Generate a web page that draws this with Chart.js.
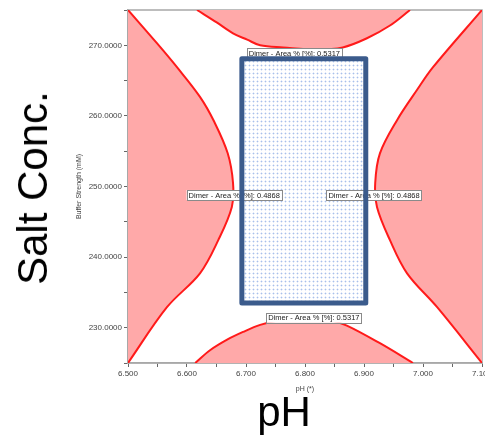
<!DOCTYPE html>
<html>
<head>
<meta charset="utf-8">
<script src="https://cdn.jsdelivr.net/npm/chart.js@4.4.1/dist/chart.umd.min.js"></script>
<style>
	body { margin: 0; background: #fff; }
	#wrap { position: relative; width: 485px; height: 437px; overflow: hidden; }
	.big { position: absolute; font-family: "Liberation Sans", Arial, sans-serif; font-size: 42px; line-height: 1; white-space: nowrap; color: #000; }
	#saltLabel { left: 33px; top: 188px; transform: translate(-50%, -50%) rotate(-90deg); }
	#phLabel { left: 284px; top: 391px; transform: translateX(-50%); }
</style>
</head>
<body>
<div id="wrap">
	<canvas id="myChart" width="485" height="437"></canvas>
	<div class="big" id="saltLabel">Salt Conc.</div>
	<div class="big" id="phLabel">pH</div>
</div>
<script>
// contour: Dimer - Area % = 0.4868 (left lobe)
const leftPH = [6.5, 6.549, 6.583, 6.622, 6.646, 6.669, 6.678, 6.676, 6.653, 6.622, 6.566, 6.5];
const leftSalt = [275, 270.3, 266.9, 262.7, 259.2, 254.7, 250.5, 247.1, 242.4, 237.7, 232.9, 225];
// contour: Dimer - Area % = 0.4868 (right lobe)
const rightPH = [7.1, 7.017, 6.990, 6.956, 6.927, 6.919, 6.922, 6.944, 6.973, 7.024, 7.1];
const rightSalt = [275, 266.9, 263.7, 259.4, 254.7, 250.5, 247.1, 242.4, 237.7, 232.9, 225];
// contour: Dimer - Area % = 0.5317 (top lobe)
const topPH = [6.617, 6.651, 6.678, 6.702, 6.724, 6.763, 6.820, 6.864, 6.905, 6.944, 6.978];
const topSalt = [275, 273.2, 271.7, 270.8, 270.0, 269.7, 269.4, 269.7, 271.0, 272.8, 275];
// contour: Dimer - Area % = 0.5317 (bottom lobe)
const bottomPH = [6.614, 6.639, 6.668, 6.695, 6.724, 6.758, 6.800, 6.842, 6.871, 6.927, 6.983];
const bottomSalt = [225, 226.8, 228.3, 229.4, 230.4, 231.1, 231.4, 231.1, 230.3, 227.8, 225];

// design space box
const boxPH = [6.693, 6.903];
const boxSalt = [233.5, 268.1];

// contour labels
const labelPH = [6.782, 6.680, 6.917, 6.815];
const labelSalt = [268.84, 248.8, 248.8, 231.4];
const labelValue = [0.5317, 0.4868, 0.4868, 0.5317];

const xTickLabels = [6.5, 6.6, 6.7, 6.8, 6.9, 7.0, 7.1];
const yTickLabels = [230, 240, 250, 260, 270];

const toPoints = (xs, ys) => xs.map((x, i) => ({ x: x, y: ys[i] }));
const hasTick = (list, v) => list.some((t) => Math.abs(t - v) < 1e-6);

// light blue dotted fill for the box
function dotPattern() {
	const c = document.createElement("canvas");
	c.width = 4;
	c.height = 4;
	const g = c.getContext("2d");
	g.fillStyle = "#e2eaf9";
	g.fillRect(0, 1, 3, 1);
	g.fillRect(1, 0, 1, 3);
	g.fillStyle = "#a9c0ea";
	g.fillRect(1, 1, 1, 1);
	return g.createPattern(c, "repeat");
}

const contour = (xs, ys) => ({
	data: toPoints(xs, ys),
	showLine: true,
	pointRadius: 0,
	borderColor: "#ff1a1a",
	borderWidth: 2,
	backgroundColor: "#ffa9a9",
	fill: "shape",
	tension: 0.35,
	order: 2,
});

const boxPoints = toPoints(
	[boxPH[0], boxPH[1], boxPH[1], boxPH[0], boxPH[0]],
	[boxSalt[0], boxSalt[0], boxSalt[1], boxSalt[1], boxSalt[0]]
);

const framePlugin = {
	id: "frame",
	beforeDatasetsDraw(chart) {
		const { ctx, chartArea: a } = chart;
		ctx.save();
		ctx.strokeStyle = "#a8a8a8";
		ctx.lineWidth = 1.5;
		ctx.strokeRect(a.left, a.top, a.right - a.left, a.bottom - a.top);
		ctx.restore();
	},
	beforeDatasetDraw(chart, args) {
		// labels sit under the box outline
		if (args.index !== 0) return;
		const { ctx, scales } = chart;
		ctx.save();
		ctx.font = "7.5px 'Liberation Sans', Arial, sans-serif";
		ctx.textAlign = "center";
		ctx.textBaseline = "middle";
		labelPH.forEach((p, i) => {
			const text = "Dimer - Area % [%]: " + labelValue[i].toFixed(4);
			const cx = scales.x.getPixelForValue(p);
			const cy = scales.y.getPixelForValue(labelSalt[i]);
			const w = ctx.measureText(text).width + 4;
			const h = 10;
			ctx.fillStyle = "#fff";
			ctx.fillRect(cx - w / 2, cy - h / 2, w, h);
			ctx.strokeStyle = "#8a8a8a";
			ctx.lineWidth = 1;
			ctx.strokeRect(Math.round(cx - w / 2) + 0.5, Math.round(cy - h / 2) + 0.5, Math.round(w), h);
			ctx.fillStyle = "#222";
			ctx.fillText(text, cx, cy + 0.5);
		});
		ctx.restore();
	},
};

const ctx = document.getElementById("myChart");

new Chart(ctx, {
	type: "scatter",
	data: {
		datasets: [
			{
				data: boxPoints,
				showLine: true,
				pointRadius: 0,
				borderColor: "#3b5b8c",
				borderWidth: 5,
				borderJoinStyle: "round",
				backgroundColor: dotPattern(),
				fill: "shape",
				tension: 0,
				order: 0,
			},
			contour(leftPH, leftSalt),
			contour(rightPH, rightSalt),
			contour(topPH, topSalt),
			contour(bottomPH, bottomSalt),
		],
	},
	options: {
		responsive: false,
		animation: false,
		events: [],
		layout: { padding: { left: 75, top: 10, right: 3, bottom: 44 } },
		plugins: {
			legend: { display: false },
			tooltip: { enabled: false },
		},
		scales: {
			x: {
				type: "linear",
				min: 6.5,
				max: 7.1,
				ticks: {
					stepSize: 0.05,
					autoSkip: false,
					maxRotation: 0,
					padding: 2,
					color: "#444",
					font: { family: "'Liberation Sans', Arial, sans-serif", size: 8 },
					callback: (v) => (hasTick(xTickLabels, v) ? v.toFixed(3) : ""),
				},
				grid: { drawOnChartArea: false, tickLength: 4, color: "#666" },
				border: { color: "#a8a8a8", width: 1.5 },
				title: {
					display: true,
					text: "pH (*)",
					color: "#444",
					font: { family: "'Liberation Sans', Arial, sans-serif", size: 7 },
					padding: { top: 4, bottom: 0 },
				},
				afterFit(scale) {
					scale.height = 30;
					scale.paddingLeft = 0;
					scale.paddingRight = 0;
				},
			},
			y: {
				type: "linear",
				min: 225,
				max: 275,
				ticks: {
					stepSize: 5,
					autoSkip: false,
					padding: 2,
					color: "#444",
					font: { family: "'Liberation Sans', Arial, sans-serif", size: 8 },
					callback: (v) => (hasTick(yTickLabels, v) ? v.toFixed(4) : ""),
				},
				grid: { drawOnChartArea: false, tickLength: 4, color: "#666" },
				border: { color: "#a8a8a8", width: 1.5 },
				title: {
					display: true,
					text: "Buffer Strength (mM)",
					color: "#444",
					font: { family: "'Liberation Sans', Arial, sans-serif", size: 7 },
					padding: { top: 0, bottom: 2 },
				},
				afterFit(scale) {
					scale.width = 53;
					scale.paddingTop = 0;
					scale.paddingBottom = 0;
				},
			},
		},
	},
	plugins: [framePlugin],
});
</script>
</body>
</html>
